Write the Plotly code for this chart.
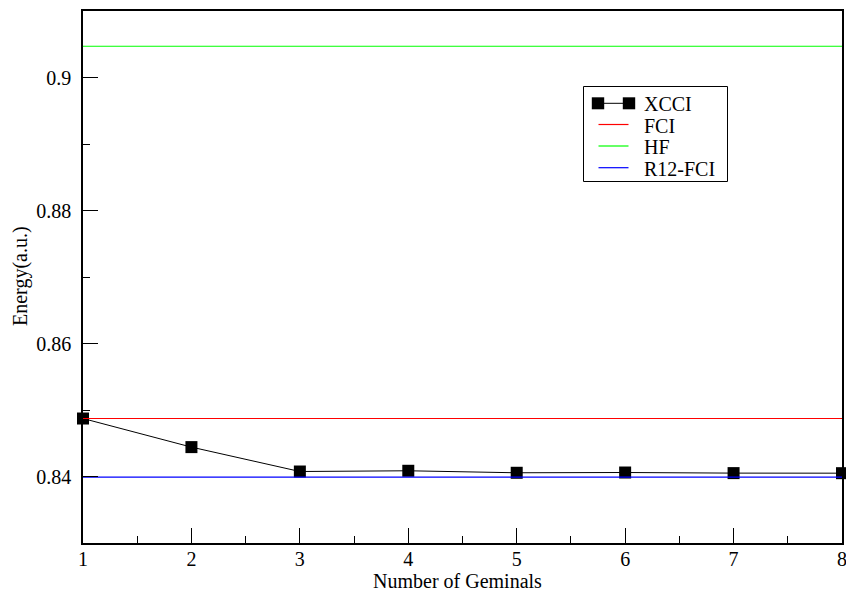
import plotly.graph_objects as go

# Data
geminals = [1, 2, 3, 4, 5, 6, 7, 8]
xcci = [0.84872, 0.84442, 0.84075, 0.84086, 0.84056, 0.84060, 0.84051, 0.84050]
fci = 0.84872
hf = 0.90470
r12_fci = 0.83990
x_ticks = [1, 2, 3, 4, 5, 6, 7, 8]
y_ticks = [0.84, 0.86, 0.88, 0.90]
y_tick_text = ["0.84", "0.86", "0.88", "0.9"]
legend_names = ["XCCI", "FCI", "HF", "R12-FCI"]
colors = {"XCCI": "black", "FCI": "#ff0000", "HF": "#00ff00", "R12-FCI": "#0000ff"}

W, H = 846, 592
ML, MR, MT, MB = 83, 4, 11, 49
PW, PH = W - ML - MR, H - MT - MB

def px(x):
    return (x - ML) / PW

def py(y):
    return (H - MB - y) / PH

FONT = "Liberation Serif, Times New Roman, serif"

fig = go.Figure()
fig.add_trace(go.Scatter(x=geminals, y=xcci, mode="lines+markers", name="XCCI",
                         line=dict(color="black", width=1),
                         marker=dict(symbol="square", size=12, color="black"),
                         cliponaxis=False, showlegend=False))
x_span = [geminals[0], geminals[-1]]
for name, val in [("FCI", fci), ("HF", hf), ("R12-FCI", r12_fci)]:
    fig.add_trace(go.Scatter(x=x_span, y=[val, val], mode="lines", name=name,
                             line=dict(color=colors[name], width=1.2), showlegend=False))

# Manual legend
shapes = []
annotations = []
shapes.append(dict(type="rect", xref="paper", yref="paper", x0=px(583.5), x1=px(727.5),
                   y0=py(181.5), y1=py(86.5), line=dict(color="black", width=1),
                   fillcolor="white", layer="above"))
rows = [103.3, 124.5, 146, 167.7]
for name, yy in zip(legend_names, rows):
    if name == "XCCI":
        shapes.append(dict(type="line", xref="paper", yref="paper", x0=px(598), x1=px(629),
                           y0=py(yy), y1=py(yy), line=dict(color="black", width=1), layer="above"))
        for cx in (598, 629):
            shapes.append(dict(type="rect", xref="paper", yref="paper", x0=px(cx - 6.2), x1=px(cx + 6.2),
                               y0=py(yy + 6), y1=py(yy - 6), line=dict(width=0),
                               fillcolor="black", layer="above"))
    else:
        shapes.append(dict(type="line", xref="paper", yref="paper", x0=px(598.5), x1=px(628.5),
                           y0=py(yy), y1=py(yy), line=dict(color=colors[name], width=1.2), layer="above"))
    annotations.append(dict(text=name, xref="paper", yref="paper", x=px(642), y=py(yy + 1),
                            xanchor="left", yanchor="middle", showarrow=False,
                            font=dict(family=FONT, size=20, color="black")))

# Axis titles
annotations.append(dict(text="Number of Geminals", xref="paper", yref="paper", x=px(457), y=py(581),
                        xanchor="center", yanchor="middle", showarrow=False,
                        font=dict(family=FONT, size=20, color="black")))
annotations.append(dict(text="Energy(a.u.)", xref="paper", yref="paper", x=px(20), y=py(276),
                        xanchor="center", yanchor="middle", showarrow=False, textangle=-90,
                        font=dict(family=FONT, size=20, color="black")))

fig.update_layout(
    width=W, height=H,
    margin=dict(l=ML, r=MR, t=MT, b=MB, autoexpand=False),
    paper_bgcolor="white", plot_bgcolor="white",
    font=dict(family=FONT, size=20, color="black"),
    showlegend=False,
    shapes=shapes, annotations=annotations,
    xaxis=dict(range=[1, 8], tickvals=x_ticks, ticks="inside", ticklen=15, tickwidth=1.2,
               tickcolor="black", showline=True, linecolor="black", linewidth=1.5, mirror=True,
               showgrid=False, zeroline=False, ticklabelstandoff=-3, automargin=False,
               ticklabeloverflow="allow",
               minor=dict(ticks="inside", ticklen=7.5, dtick=0.5, tick0=1, tickcolor="black",
                          tickwidth=1, showgrid=False)),
    yaxis=dict(range=[0.83, 0.91], tickvals=y_ticks, ticktext=y_tick_text, ticks="inside",
               ticklen=15, tickwidth=1.2, tickcolor="black", showline=True, linecolor="black",
               linewidth=1.5, mirror=True, showgrid=False, zeroline=False, ticklabelstandoff=6,
               automargin=False, ticklabeloverflow="allow",
               minor=dict(ticks="inside", ticklen=7.5, dtick=0.01, tick0=0.83, tickcolor="black",
                          tickwidth=1, showgrid=False)),
)

fig.write_html("out.html", config={"displayModeBar": False},
               post_script="document.body.style.margin='0px';document.body.style.overflow='hidden';")
